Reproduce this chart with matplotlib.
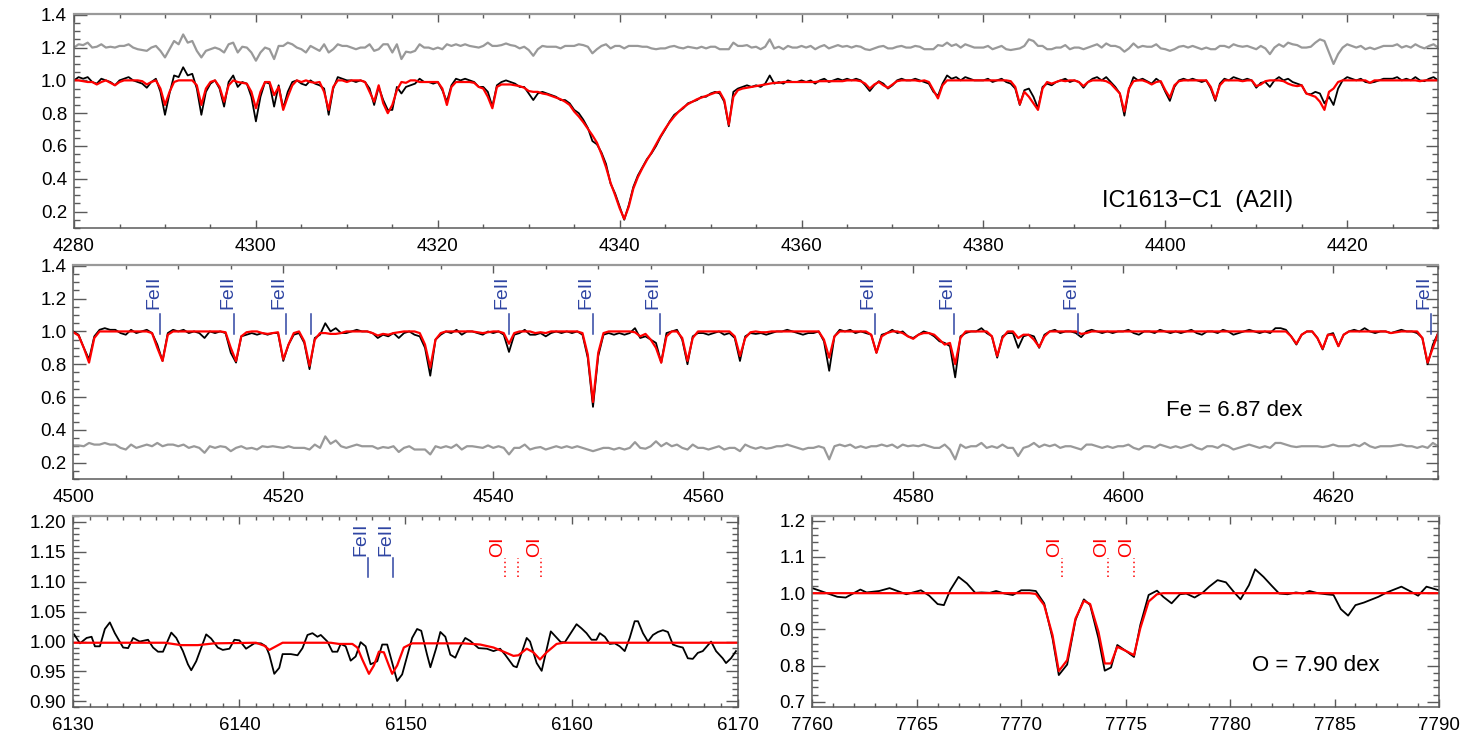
import numpy as np
import matplotlib
matplotlib.use("Agg")
import matplotlib.pyplot as plt
from matplotlib.ticker import MultipleLocator, FormatStrFormatter

plt.rcParams["font.family"] = ["Liberation Sans", "DejaVu Sans"]

# ---- H-gamma region, 0.5 A sampling starting at 4280 A
hg_start = 4280.0
hg_step = 0.5
hg_obs = [
    1.0, 1.02, 1.01, 1.02, 0.99, 0.98, 1.01, 1.0, 0.99, 0.97,
    1.0, 1.01, 1.02, 1.0, 0.99, 0.98, 0.955, 0.99, 1.01, 0.93,
    0.79, 0.92, 1.03, 1.02, 1.08, 1.03, 1.04, 0.95, 0.79, 0.93,
    0.98, 1.0, 0.95, 0.84, 0.99, 1.03, 0.96, 0.99, 0.98, 0.9,
    0.75, 0.9, 0.99, 0.98, 0.84, 0.97, 0.83, 0.93, 0.99, 1.0,
    0.98, 0.97, 1.0, 0.98, 0.97, 0.95, 0.79, 0.95, 1.02, 1.01,
    1.0, 1.0, 0.99, 1.0, 0.99, 0.95, 0.85, 0.96, 0.88, 0.82,
    0.82, 0.96, 0.92, 0.96, 0.97, 0.98, 1.01, 0.99, 0.99, 0.98,
    0.99, 0.94, 0.87, 0.97, 1.01, 1.0, 1.01, 1.0, 0.99, 0.96,
    0.96, 0.93, 0.84, 0.97, 0.99, 1.0, 0.99, 0.98, 0.96, 0.96,
    0.92, 0.88, 0.92, 0.93, 0.92, 0.91, 0.9, 0.88, 0.88, 0.86,
    0.82, 0.8, 0.76, 0.71, 0.63, 0.61, 0.56, 0.49, 0.37, 0.31,
    0.23, 0.15, 0.24, 0.35, 0.42, 0.47, 0.52, 0.555, 0.6, 0.655,
    0.7, 0.75, 0.79, 0.81, 0.83, 0.86, 0.87, 0.88, 0.9, 0.9,
    0.92, 0.93, 0.92, 0.87, 0.72, 0.93, 0.95, 0.96, 0.97, 0.96,
    0.97, 0.96, 0.98, 1.03, 0.98, 0.99, 0.98, 1.0, 0.99, 0.99,
    1.0, 0.99, 1.0, 0.98, 1.0, 1.01, 0.99, 1.0, 1.01, 1.0,
    1.01, 1.0, 1.01, 1.0, 0.97, 0.935, 0.97, 0.995, 0.98, 0.95,
    0.97, 1.0, 1.01, 1.0, 1.0, 1.01, 1.0, 0.99, 0.98, 0.93,
    0.905, 0.98, 1.03, 1.01, 1.02, 1.0, 1.02, 1.01, 1.0, 1.0,
    1.0, 1.01, 0.99, 1.0, 1.01, 0.99, 0.98, 0.95, 0.85, 0.94,
    0.95, 0.9, 0.83, 0.96, 0.98, 0.97, 0.99, 1.0, 1.01, 0.99,
    1.0, 0.99, 0.955, 0.99, 1.01, 1.02, 1.0, 1.02, 0.99, 0.96,
    0.92, 0.785, 0.945, 1.02, 1.0, 1.01, 0.995, 0.98, 1.01, 0.99,
    0.93, 0.875, 0.96, 1.0, 1.01, 1.0, 1.01, 1.0, 0.99, 1.0,
    0.95, 0.875, 0.98, 1.01, 1.0, 1.02, 1.01, 1.0, 1.01, 1.0,
    0.955, 0.985, 0.99, 0.96, 1.0, 1.02, 1.0, 1.01, 0.99, 0.98,
    0.97, 0.92, 0.915, 0.93, 0.92, 0.86, 0.9, 0.85, 0.95, 1.0,
    1.02, 1.01, 1.0, 1.01, 0.99, 0.985, 0.99, 1.0, 1.01, 1.01,
    1.01, 1.02, 1.0, 1.01, 1.0, 1.02, 1.0, 0.995, 1.01, 1.02,
    1.0,
]
hg_fit = [
    1.0, 1.0, 0.995, 0.99, 0.99, 0.975, 0.99, 1.0, 0.985, 0.97,
    0.99, 1.0, 1.0, 1.0, 1.0, 0.995, 0.975, 0.99, 1.0, 0.95,
    0.85, 0.93, 0.99, 1.0, 1.0, 1.0, 1.0, 0.97, 0.85, 0.95,
    0.99, 1.0, 0.96, 0.87, 0.97, 1.0, 0.99, 0.985, 0.98, 0.93,
    0.83, 0.93, 0.99, 0.99, 0.91, 0.96, 0.82, 0.9, 0.97, 1.0,
    0.99, 1.0, 0.99, 0.985, 0.99, 0.93, 0.82, 0.96, 1.0, 1.0,
    0.99, 1.0, 1.0, 1.0, 0.99, 0.93, 0.87, 0.97, 0.86, 0.8,
    0.85, 0.94, 0.99, 0.985, 1.0, 1.0, 0.99, 0.99, 0.99, 0.99,
    0.99, 0.95, 0.85, 0.96, 0.99, 0.99, 0.99, 0.99, 0.985, 0.96,
    0.95, 0.9, 0.83, 0.96, 0.975, 0.975, 0.975, 0.97, 0.965, 0.955,
    0.935, 0.93, 0.93, 0.92, 0.915, 0.905, 0.895, 0.885, 0.87, 0.85,
    0.81, 0.78, 0.745, 0.705, 0.665, 0.62, 0.55, 0.47, 0.375, 0.3,
    0.22, 0.155, 0.23, 0.34, 0.41, 0.465, 0.515, 0.56, 0.61, 0.66,
    0.705, 0.745, 0.78, 0.81, 0.835, 0.855, 0.87, 0.885, 0.895, 0.905,
    0.915, 0.925, 0.93, 0.88, 0.73, 0.9, 0.94, 0.95, 0.955, 0.96,
    0.965, 0.97, 0.975, 0.98, 0.985, 0.985, 0.99, 0.99, 0.99, 0.99,
    0.99, 0.99, 0.99, 0.99, 0.995, 0.995, 0.995, 0.995, 0.995, 0.995,
    1.0, 1.0, 1.0, 0.995, 0.98, 0.95, 0.975, 0.99, 0.97, 0.955,
    0.975, 0.995, 1.0, 1.0, 1.0, 1.0, 0.995, 1.0, 0.99, 0.94,
    0.89, 0.97, 1.0, 1.0, 1.0, 1.0, 1.0, 1.0, 1.0, 1.0,
    1.0, 1.0, 1.0, 1.0, 1.0, 1.0, 0.995, 0.96, 0.855, 0.93,
    0.9, 0.86, 0.82, 0.95, 0.99, 0.98, 0.99, 1.0, 0.995, 1.0,
    1.0, 0.99, 0.965, 0.99, 1.0, 1.0, 1.0, 0.995, 0.98, 0.95,
    0.92, 0.81, 0.95, 0.995, 1.0, 1.0, 0.99, 0.975, 0.99, 0.995,
    0.94, 0.895, 0.97, 0.995, 1.0, 1.0, 1.0, 1.0, 1.0, 1.0,
    0.96, 0.885, 0.97, 1.0, 1.0, 1.0, 1.0, 0.995, 1.0, 1.0,
    0.965, 0.975, 0.995, 1.0, 1.0, 1.0, 0.995, 0.98, 0.97, 0.965,
    0.97, 0.92, 0.91, 0.9, 0.87, 0.82, 0.93, 0.95, 0.99, 1.0,
    1.0, 1.0, 1.0, 1.0, 1.0, 0.985, 1.0, 1.0, 1.0, 1.0,
    1.0, 1.0, 1.0, 1.0, 1.0, 1.0, 0.995, 1.0, 1.0, 1.0,
    1.0,
]

# ---- FeII region, 0.5 A sampling starting at 4500 A
fe_start = 4500.0
fe_step = 0.5
fe_obs = [
    1.0, 0.98, 0.9, 0.83, 0.97, 1.01, 1.02, 1.01, 1.01, 0.99,
    0.98, 1.01, 0.99, 1.0, 1.01, 0.99, 0.92, 0.82, 0.99, 1.01,
    1.0, 1.01, 0.99, 1.0, 0.99, 0.96, 1.0, 0.99, 1.0, 0.99,
    0.87, 0.81, 0.97, 0.98, 0.99, 0.98, 0.99, 0.98, 0.99, 0.99,
    0.82, 0.92, 0.98, 0.99, 0.93, 0.77, 0.96, 0.98, 1.05, 1.0,
    1.02, 0.99, 0.99, 1.0, 1.01, 1.0, 1.0, 0.99, 0.96, 0.98,
    0.97, 0.99, 0.96, 0.99, 1.0, 0.98, 0.97, 0.9, 0.73, 0.95,
    0.98, 1.0, 0.99, 1.01, 0.98, 1.0, 1.0, 0.99, 0.98, 1.0,
    0.99, 1.0, 0.98, 0.875, 0.98, 0.99, 1.01, 0.98, 0.98, 0.99,
    0.97, 0.99, 1.0, 0.99, 1.0, 0.99, 1.0, 0.98, 0.84, 0.54,
    0.85, 0.98, 0.99, 0.98, 0.99, 0.98, 0.99, 1.02, 0.96, 0.97,
    0.95, 0.93, 0.81, 0.99, 1.0, 1.01, 0.95, 0.8, 0.97, 0.99,
    0.99, 0.98, 0.99, 1.0, 0.98, 0.99, 0.96, 0.82, 0.97, 0.99,
    0.985, 0.99, 0.98, 0.99, 1.0, 1.0, 1.01, 1.0, 0.99, 0.98,
    0.99, 0.99, 1.0, 0.94, 0.76, 0.97, 1.01, 1.0, 1.01, 0.99,
    1.0, 0.99, 0.98, 0.87, 0.98, 0.99, 1.01, 0.99, 1.0, 0.97,
    0.96, 0.98, 1.0, 0.99, 0.97, 0.94, 0.93, 0.91, 0.72, 0.97,
    0.99, 1.0, 1.0, 1.02, 0.99, 0.97, 0.84, 0.97, 0.99, 0.99,
    0.9, 0.97, 0.98, 0.97, 0.9, 0.98, 1.0, 1.01, 0.99, 1.0,
    1.0, 0.99, 0.965, 1.0, 1.01, 1.0, 0.99, 1.0, 0.99, 1.0,
    1.0, 1.01, 0.99, 0.98, 1.0, 1.0, 0.99, 1.01, 1.0, 0.99,
    1.0, 0.99, 1.0, 1.01, 0.99, 0.98, 1.0, 1.0, 0.99, 1.01,
    1.0, 0.98, 0.99, 1.0, 1.01, 1.0, 0.99, 1.0, 0.99, 1.02,
    1.02, 1.01, 0.97, 0.92, 0.98, 1.0, 1.0, 0.96, 0.89, 0.98,
    0.99, 0.91, 0.98, 1.0, 1.01, 1.0, 1.02, 1.0, 0.99, 1.0,
    1.0, 0.99, 1.0, 1.01, 1.0, 1.0, 0.99, 0.96, 0.8, 0.92,
    0.99,
]
fe_fit = [
    0.995, 0.975, 0.9, 0.81, 0.96, 1.0, 1.0, 1.0, 1.0, 1.0,
    1.0, 1.0, 1.0, 1.0, 1.0, 0.99, 0.9, 0.82, 0.98, 1.0,
    1.0, 1.0, 1.0, 1.0, 1.0, 1.0, 1.0, 1.0, 1.0, 0.995,
    0.9, 0.82, 0.97, 0.995, 1.0, 1.0, 0.99, 0.985, 0.99, 0.995,
    0.83, 0.92, 0.99, 1.0, 0.94, 0.79, 0.95, 0.99, 0.99, 0.985,
    0.985, 0.99, 1.0, 1.0, 1.0, 1.0, 1.0, 0.99, 0.975, 0.985,
    0.98, 0.99, 0.995, 1.0, 1.0, 1.0, 0.99, 0.92, 0.78, 0.95,
    0.99, 1.0, 1.0, 1.0, 1.0, 1.0, 1.0, 0.995, 0.99, 0.995,
    1.0, 1.0, 0.99, 0.925, 0.99, 1.0, 1.0, 1.0, 0.99, 0.995,
    0.99, 1.0, 1.0, 1.0, 1.0, 1.0, 1.0, 0.99, 0.86, 0.57,
    0.87, 0.99, 1.0, 1.0, 1.0, 1.0, 1.0, 0.995, 0.97, 0.985,
    0.95, 0.9, 0.81, 0.97, 1.0, 1.0, 0.96, 0.82, 0.96, 1.0,
    1.0, 1.0, 1.0, 1.0, 1.0, 1.0, 0.97, 0.85, 0.96, 0.995,
    1.0, 0.995, 0.995, 1.0, 1.0, 1.0, 1.0, 1.0, 1.0, 1.0,
    1.0, 1.0, 1.0, 0.95, 0.84, 0.97, 1.0, 1.0, 1.0, 1.0,
    1.0, 1.0, 0.98, 0.87, 0.97, 0.99, 1.0, 1.0, 0.99, 0.97,
    0.955, 0.98, 0.99, 0.99, 0.98, 0.95, 0.92, 0.93, 0.8, 0.96,
    1.0, 1.0, 1.0, 1.0, 1.0, 0.97, 0.85, 0.96, 1.0, 1.0,
    0.96, 0.98, 0.98, 0.95, 0.905, 0.97, 1.0, 1.0, 1.0, 1.0,
    1.0, 1.0, 0.985, 0.99, 1.0, 1.0, 1.0, 1.0, 1.0, 1.0,
    1.0, 1.0, 1.0, 1.0, 1.0, 1.0, 1.0, 1.0, 1.0, 1.0,
    1.0, 1.0, 1.0, 1.0, 1.0, 1.0, 1.0, 1.0, 1.0, 1.0,
    1.0, 1.0, 1.0, 1.0, 1.0, 1.0, 1.0, 1.0, 1.0, 1.0,
    1.0, 1.0, 0.97, 0.925, 0.98, 1.0, 1.0, 0.96, 0.895, 0.98,
    0.98, 0.91, 0.98, 1.0, 1.0, 1.0, 1.0, 1.0, 1.0, 1.0,
    1.0, 0.99, 0.995, 1.0, 1.0, 1.0, 1.0, 0.96, 0.81, 0.9,
    0.99,
]
fe2_labeled = [4508.29, 4515.34, 4520.22, 4541.52, 4549.47, 4555.89,
               4576.34, 4583.84, 4595.68, 4629.34]
fe2_unlabeled = [4522.63]

# ---- 6130-6170 A region
red_wave = [
    6130.05, 6130.4, 6130.8, 6131.1, 6131.3, 6131.6, 6131.9, 6132.2, 6132.5, 6133.0,
    6133.3, 6133.6, 6134.0, 6134.5, 6134.8, 6135.1, 6135.4, 6135.9, 6136.2, 6136.6,
    6136.9, 6137.1, 6137.4, 6138.0, 6138.3, 6138.7, 6139.0, 6139.4, 6139.7, 6140.0,
    6140.4, 6140.9, 6141.3, 6141.6, 6141.8, 6142.1, 6142.4, 6142.6, 6143.1, 6143.5,
    6143.8, 6144.1, 6144.4, 6144.7, 6144.9, 6145.3, 6145.6, 6145.9, 6146.1, 6146.4,
    6146.7, 6147.0, 6147.3, 6147.6, 6147.9, 6148.3, 6148.6, 6148.9, 6149.5, 6149.8,
    6150.4, 6150.7, 6150.95, 6151.3, 6151.5, 6151.85, 6152.1, 6152.4, 6152.7, 6153.0,
    6153.3, 6153.6, 6153.9, 6154.4, 6154.9, 6155.3, 6155.7, 6156.0, 6156.5, 6156.7,
    6157.3, 6157.5, 6157.9, 6158.2, 6158.75, 6159.05, 6159.35, 6159.6, 6159.95, 6160.3,
    6160.6, 6160.9, 6161.2, 6161.5, 6161.7, 6162.0, 6162.3, 6162.6, 6162.9, 6163.2,
    6163.5, 6163.8, 6164.0, 6164.3, 6164.6, 6164.9, 6165.2, 6165.5, 6165.8, 6166.1,
    6166.4, 6166.7, 6167.0, 6167.3, 6167.6, 6167.9, 6168.4, 6168.7, 6169.1, 6169.3,
    6169.6, 6169.9,
]
red_obs = [
    1.012, 0.997, 1.006, 1.008, 0.992, 0.992, 1.021, 1.032, 1.014, 0.99,
    0.989, 1.006, 1.0, 1.003, 0.99, 0.983, 0.983, 1.015, 1.006, 0.984,
    0.962, 0.952, 0.967, 1.012, 1.005, 0.99, 0.986, 0.988, 1.003, 1.002,
    0.988, 0.997, 0.997, 0.992, 0.978, 0.946, 0.956, 0.979, 0.979, 0.977,
    0.989, 1.011, 1.014, 1.008, 1.011, 1.0, 0.983, 0.983, 0.996, 0.992,
    0.968, 0.975, 0.999, 0.992, 0.962, 0.967, 0.995, 0.995, 0.934, 0.945,
    1.006, 1.021, 1.018, 0.978, 0.957, 0.989, 1.016, 1.008, 0.978, 0.973,
    0.992, 1.006, 1.001, 0.989, 0.988, 0.984, 0.988, 0.978, 0.959, 0.957,
    1.006, 1.0, 0.964, 0.951, 1.017, 1.008, 0.999, 0.999, 1.014, 1.029,
    1.022, 1.014, 1.003, 1.003, 1.014, 1.008, 0.996, 0.997, 0.992, 0.984,
    1.006, 1.034, 1.034, 1.014, 1.0, 1.011, 1.016, 1.019, 1.016, 0.995,
    0.992, 0.99, 0.972, 0.971, 0.981, 0.984, 1.0, 0.984, 0.972, 0.964,
    0.972, 0.984,
]
red_fit_wave = [
    6130.0, 6135.5, 6136.5, 6137.5, 6138.5, 6141.0, 6141.5, 6141.8, 6142.2, 6142.6,
    6145.5, 6146.0, 6146.8, 6147.1, 6147.4, 6147.8, 6148.1, 6148.4, 6148.7, 6149.0,
    6149.2, 6149.5, 6149.9, 6150.4, 6153.5, 6154.5, 6155.3, 6156.0, 6156.5, 6156.8,
    6157.3, 6157.7, 6158.1, 6158.5, 6159.1, 6159.5, 6170.0,
]
red_fit = [
    0.998, 0.998, 0.994, 0.994, 0.997, 0.998, 0.993, 0.986, 0.992, 0.998,
    0.998, 0.996, 0.996, 0.99, 0.97, 0.946, 0.96, 0.983, 0.982, 0.96,
    0.946, 0.96, 0.99, 0.997, 0.997, 0.995, 0.99, 0.982, 0.976, 0.977,
    0.988, 0.982, 0.97, 0.982, 0.996, 0.998, 0.998,
]
red_fe2 = [6147.74, 6149.25]
red_oi = [6155.98, 6156.77, 6158.18]
red_oi_labeled = [6155.98, 6158.18]

# ---- OI 7774 triplet
ir_wave = [
    7760.05, 7760.6, 7761.2, 7761.6, 7762.3, 7762.6, 7763.2, 7763.7, 7764.5, 7765.2,
    7765.6, 7766.0, 7766.3, 7766.6, 7767.0, 7767.4, 7767.8, 7768.1, 7768.5, 7768.8,
    7769.2, 7769.6, 7770.0, 7770.4, 7770.7, 7771.1, 7771.5, 7771.8, 7772.2, 7772.6,
    7773.0, 7773.3, 7773.7, 7774.0, 7774.3, 7774.6, 7775.0, 7775.4, 7775.7, 7776.1,
    7776.5, 7776.8, 7777.2, 7777.6, 7777.9, 7778.3, 7778.7, 7779.0, 7779.4, 7779.8,
    7780.2, 7780.5, 7780.9, 7781.2, 7781.6, 7782.0, 7782.35, 7782.75, 7783.15, 7783.5,
    7783.8, 7784.2, 7784.6, 7784.95, 7785.3, 7785.65, 7786.0, 7786.4, 7787.1, 7787.5,
    7788.2, 7788.6, 7789.0, 7789.4, 7789.7, 7790.0,
]
ir_obs = [
    1.013, 1.002, 0.99, 0.988, 1.01, 1.002, 1.006, 1.014, 0.997, 1.008,
    0.993, 0.97, 0.967, 1.008, 1.045, 1.027, 1.001, 1.002, 1.001, 1.006,
    0.999, 0.995, 1.008, 1.008, 1.006, 0.972, 0.875, 0.774, 0.803, 0.926,
    0.983, 0.967, 0.875, 0.786, 0.795, 0.857, 0.841, 0.824, 0.912, 0.995,
    1.007, 0.99, 0.972, 0.997, 0.999, 0.988, 1.002, 1.018, 1.036, 1.03,
    1.002, 0.983, 1.022, 1.066, 1.045, 1.02, 0.999, 0.997, 1.002, 0.999,
    1.006, 1.0, 0.997, 0.995, 0.956, 0.938, 0.967, 0.974, 0.99, 1.002,
    1.018, 1.006, 0.993, 1.018, 1.013, 1.008,
]
ir_fit = [
    1.0, 1.0, 1.0, 1.0, 1.0, 1.0, 1.0, 1.0, 1.0, 1.0,
    1.0, 1.0, 1.0, 1.0, 1.0, 1.0, 1.0, 1.0, 1.0, 1.0,
    1.0, 1.0, 1.0, 1.0, 0.998, 0.967, 0.884, 0.785, 0.815, 0.93,
    0.979, 0.97, 0.893, 0.806, 0.806, 0.852, 0.841, 0.829, 0.903, 0.977,
    0.997, 1.0, 1.0, 1.0, 1.0, 1.0, 1.0, 1.0, 1.0, 1.0,
    1.0, 1.0, 1.0, 1.0, 1.0, 1.0, 1.0, 1.0, 1.0, 1.0,
    1.0, 1.0, 1.0, 1.0, 1.0, 1.0, 1.0, 1.0, 1.0, 1.0,
    1.0, 1.0, 1.0, 1.0, 1.0, 1.0,
]
ir_oi = [7771.94, 7774.17, 7775.39]

BLUE = "#2f45a3"
GRAY = "#999999"
SPINE = "#5a5a5a"


def style(ax, xlim, ylim, xmaj, xmin, ymaj, ymin, yfmt):
    ax.set_xlim(*xlim)
    ax.set_ylim(*ylim)
    ax.xaxis.set_major_locator(MultipleLocator(xmaj))
    ax.xaxis.set_minor_locator(MultipleLocator(xmin))
    ax.yaxis.set_major_locator(MultipleLocator(ymaj))
    ax.yaxis.set_minor_locator(MultipleLocator(ymin))
    ax.yaxis.set_major_formatter(FormatStrFormatter(yfmt))
    ax.xaxis.set_major_formatter(FormatStrFormatter("%d"))
    ax.tick_params(which="both", direction="in", top=True, right=True,
                   color=SPINE, labelcolor="black", labelsize=13.5, width=1)
    ax.tick_params(axis="y", which="major", length=9, pad=5)
    ax.tick_params(axis="y", which="minor", length=4.5)
    ax.tick_params(axis="x", which="major", length=5.5, pad=7)
    ax.tick_params(axis="x", which="minor", length=3)
    for s in ax.spines.values():
        s.set_color(SPINE)
        s.set_linewidth(1.1)
    ax.spines["top"].set_color(GRAY)
    ax.spines["top"].set_linewidth(1.6)


fig = plt.figure(figsize=(14.75, 7.38), dpi=100)

# ---- panel 1: H-gamma
ax1 = fig.add_axes([0.0502, 0.6911, 0.9248, 0.2900])
obs = np.array(hg_obs)
fit = np.array(hg_fit)
wave = hg_start + hg_step * np.arange(len(obs))
ax1.plot(wave, obs - fit + 1.2, color=GRAY, lw=1.6)
ax1.plot(wave, obs, color="black", lw=1.3)
ax1.plot(wave, fit, color="red", lw=1.6)
style(ax1, (4280, 4430), (0.1, 1.405), 20, 5, 0.2, 0.05, "%.1f")
ax1.text(4393, 0.23, "IC1613\u2212C1  (A2II)", fontsize=17, ha="left", va="baseline")

# ---- panel 2: FeII lines
ax2 = fig.add_axes([0.0497, 0.3509, 0.9253, 0.2900])
obs = np.array(fe_obs)
fit = np.array(fe_fit)
wave = fe_start + fe_step * np.arange(len(obs))
ax2.plot(wave, obs - fit + 0.3, color=GRAY, lw=1.6)
ax2.plot(wave, obs, color="black", lw=1.3)
ax2.plot(wave, fit, color="red", lw=1.6)
style(ax2, (4500, 4630), (0.1, 1.405), 20, 5, 0.2, 0.05, "%.1f")
for lam in fe2_labeled + fe2_unlabeled:
    ax2.plot([lam, lam], [0.986, 1.108], color=BLUE, lw=1.1)
for lam in fe2_labeled:
    ax2.text(lam + 0.15, 1.135, "FeII", rotation=90, color=BLUE, fontsize=14,
             ha="right", va="bottom")
ax2.text(4604.1, 0.482, "Fe = 6.87 dex", fontsize=16, ha="left", va="baseline")

# ---- panel 3: 6150 region
ax3 = fig.add_axes([0.0497, 0.0416, 0.4504, 0.2592])
ax3.plot(red_wave, red_obs, color="black", lw=1.3)
ax3.plot(red_fit_wave, red_fit, color="red", lw=1.6)
style(ax3, (6130, 6170), (0.89, 1.21), 10, 1, 0.05, 0.01, "%.2f")
for lam in red_fe2:
    ax3.plot([lam, lam], [1.108, 1.139], color=BLUE, lw=1.1)
    ax3.text(lam + 0.1, 1.143, "FeII", rotation=90, color=BLUE, fontsize=14,
             ha="right", va="bottom")
for lam in red_oi:
    ax3.plot([lam, lam], [1.108, 1.139], color="red", lw=1.1, ls=(0, (1, 2)))
for lam in red_oi_labeled:
    ax3.text(lam + 0.1, 1.141, "OI", rotation=90, color="red", fontsize=14,
             ha="right", va="bottom")

# ---- panel 4: OI triplet
ax4 = fig.add_axes([0.5507, 0.0416, 0.4249, 0.2592])
ax4.plot(ir_wave, ir_obs, color="black", lw=1.3)
ax4.plot(ir_wave, ir_fit, color="red", lw=1.6)
style(ax4, (7760, 7790), (0.685, 1.213), 5, 1, 0.1, 0.02, "%.1f")
for lam in ir_oi:
    ax4.plot([lam, lam], [1.045, 1.096], color="red", lw=1.1, ls=(0, (1, 2)))
    ax4.text(lam + 0.07, 1.099, "OI", rotation=90, color="red", fontsize=14,
             ha="right", va="bottom")
ax4.text(7781.05, 0.786, "O = 7.90 dex", fontsize=16, ha="left", va="baseline")

fig.savefig("out.png", dpi=100)
